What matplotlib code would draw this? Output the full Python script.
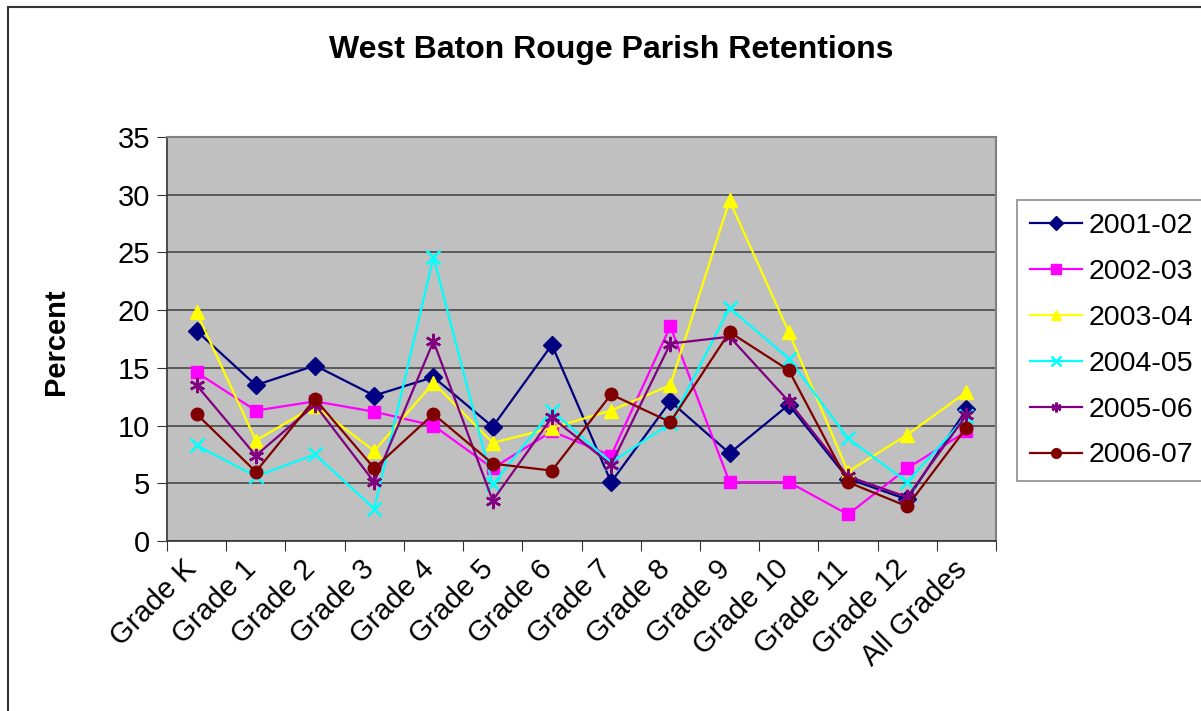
import matplotlib
matplotlib.use("Agg")
import matplotlib.pyplot as plt
import matplotlib.transforms as mtransforms
from matplotlib.patches import Rectangle

plt.rcParams["font.family"] = ["Liberation Sans", "DejaVu Sans"]

grades = ["Grade K", "Grade 1", "Grade 2", "Grade 3", "Grade 4", "Grade 5",
          "Grade 6", "Grade 7", "Grade 8", "Grade 9", "Grade 10", "Grade 11",
          "Grade 12", "All Grades"]

y2001_02 = [18.2, 13.5, 15.2, 12.6, 14.2, 9.9, 17.0, 5.1, 12.1, 7.6, 11.8, 5.4, 3.6, 11.4]
y2002_03 = [14.6, 11.3, 12.1, 11.2, 10.0, 6.3, 9.5, 7.4, 18.6, 5.1, 5.1, 2.3, 6.3, 9.5]
y2003_04 = [19.8, 8.7, 11.7, 7.8, 13.7, 8.5, 9.8, 11.3, 13.5, 29.5, 18.1, 6.0, 9.2, 12.9]
y2004_05 = [8.3, 5.6, 7.5, 2.8, 24.6, 4.9, 11.3, 6.8, 10.2, 20.2, 15.8, 8.9, 5.1, 10.8]
y2005_06 = [13.5, 7.4, 11.8, 5.1, 17.3, 3.5, 10.7, 6.6, 17.1, 17.7, 12.1, 5.6, 3.8, 10.9]
y2006_07 = [11.0, 6.0, 12.3, 6.3, 11.0, 6.7, 6.1, 12.7, 10.3, 18.1, 14.8, 5.1, 3.0, 9.8]

series = [
    ("2001-02", y2001_02, "#000080", "D", 9),
    ("2002-03", y2002_03, "#FF00FF", "s", 9),
    ("2003-04", y2003_04, "#FFFF00", "^", 10),
    ("2004-05", y2004_05, "#00FFFF", "x", 10),
    ("2005-06", y2005_06, "#800080", (6, 2, 0), 11),
    ("2006-07", y2006_07, "#800000", "o", 9),
]

fig = plt.figure(figsize=(12.01, 7.11), dpi=100)
ax = fig.add_axes([167 / 1201, 1 - 541 / 711, (996 - 167) / 1201, (541 - 137) / 711])
ax.set_facecolor("#C0C0C0")

x = list(range(len(grades)))
for name, vals, col, mk, ms in series:
    ax.plot(x, vals, color=col, lw=1.6, marker=mk, markersize=ms,
            markeredgewidth=1.8 if mk in ("x", (6, 2, 0)) else 1.0,
            markeredgecolor=col, markerfacecolor=col, label=name, zorder=3)

ax.set_xlim(-0.5, len(grades) - 0.5)
ax.set_ylim(0, 35)
ax.set_yticks(range(0, 36, 5))
ax.yaxis.grid(True, color="#5a5a5a", lw=1.4)
ax.set_axisbelow(True)

# tick marks sit between categories, labels at the centres
ax.set_xticks([i - 0.5 for i in range(len(grades) + 1)])
ax.set_xticklabels([])
ax.set_xticks(x, minor=True)
ax.set_xticklabels(grades, minor=True, rotation=45, ha="right",
                   rotation_mode="anchor", fontsize=21)
ax.tick_params(axis="x", which="minor", length=0, pad=10)
ax.tick_params(axis="x", which="major", length=7, color="#333333")
ax.tick_params(axis="y", labelsize=21, length=7, color="#333333", pad=5)
shift = mtransforms.ScaledTranslation(-14 / 100, 0, fig.dpi_scale_trans)
for lbl in ax.get_xticklabels(minor=True):
    lbl.set_transform(lbl.get_transform() + shift)

for s in ("top", "right"):
    ax.spines[s].set_color("#808080")
    ax.spines[s].set_linewidth(1.5)
for s in ("left", "bottom"):
    ax.spines[s].set_color("#333333")
    ax.spines[s].set_linewidth(1.2)

fig.text(0.509, 0.929, "West Baton Rouge Parish Retentions", ha="center",
         va="center", fontsize=23, fontweight="bold")
fig.text(0.047, 0.519, "Percent", ha="center", va="center", rotation=90,
         fontsize=21, fontweight="bold")

leg = fig.legend(loc="upper left", bbox_to_anchor=(1017 / 1201, 1 - 200 / 711),
                 fontsize=20.5, frameon=True, fancybox=False, handlelength=1.85,
                 labelspacing=0.7, borderpad=0.45, handletextpad=0.22,
                 borderaxespad=0)
leg.get_frame().set_edgecolor("#707070")
leg.get_frame().set_linewidth(1.2)
for h in leg.legend_handles:
    h.set_markersize(7)

fig.patches.append(Rectangle((8 / 1201, -0.05), 1.2, 1 - 7 / 711 + 0.05,
                             transform=fig.transFigure, fill=False,
                             edgecolor="#333333", lw=1.5))

fig.savefig("out.png", dpi=100)
